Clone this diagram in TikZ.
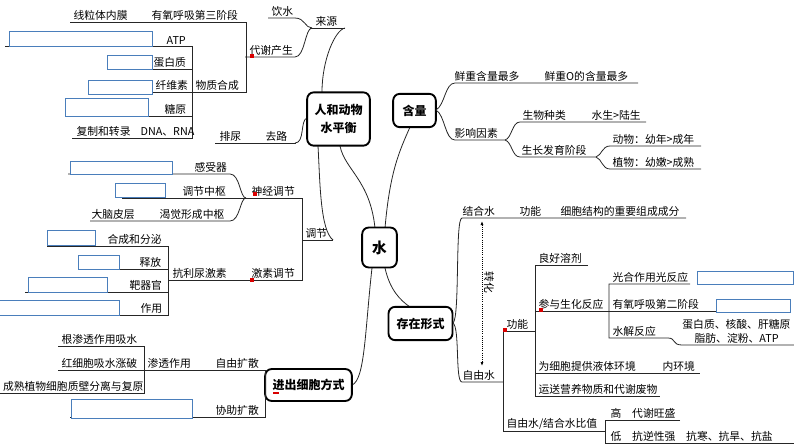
\documentclass[tikz,border=0pt]{standalone}
\usepackage{fontspec}
\setmainfont{Noto Sans CJK SC}
\usetikzlibrary{arrows.meta}
\definecolor{bx}{HTML}{4A7EBB}
\tikzset{t/.style={inner sep=1pt,font=\fontsize{8.1}{9}\selectfont},
 ln/.style={line width=0.6pt,black!85},
 mbox/.style={draw,line width=1.4pt,rounded corners=5pt,fill=white,font=\fontsize{9}{11}\selectfont\bfseries,align=center},
 blank/.style={draw=bx,line width=0.6pt,fill=white},
 rd/.style={fill=red!85!black}}
\newcommand\tx[3]{\node[t,anchor=south west] at (#1,#2) {#3};}
\newcommand\tr[3]{\node[t,anchor=south east] at (#1,#2) {#3};}
\newcommand\bk[4]{\draw[blank] (#1,#2) rectangle (#3,#4);}
\newcommand\rdot[2]{\fill[rd] (#1-2,#2-2) rectangle (#1+2,#2+2);}
\begin{document}
\begin{tikzpicture}[x=0.75pt,y=-0.75pt]
\useasboundingbox (0,0) rectangle (794,447);
\clip (0,0) rectangle (794,447);
% connectors from centre
\draw[ln] (375,228) .. controls (370,180) and (345,170) .. (340,146);
\draw[ln] (385,228) .. controls (390,170) and (400,150) .. (410,127);
\draw[ln] (385,268) .. controls (390,290) and (400,300) .. (410,307);
\draw[ln] (372,268) .. controls (365,330) and (365,380) .. (352,385);
\draw[ln] (333,240) .. controls (320,230) and (320,180) .. (318,146);
\draw[ln] (322,92) .. controls (322,60) and (335,30) .. (345,28);
\draw[ln] (307,118) .. controls (300,120) and (305,143) .. (295,143);
% centre nodes
\node[mbox,minimum width=26pt,minimum height=30pt,font=\fontsize{11}{13}\selectfont\bfseries] (wc) at (379.5,247.5) {水};
\node[mbox,minimum width=47pt,minimum height=40pt] (rh) at (338.5,119) {人和动物\\[2pt]水平衡};
\node[mbox,minimum width=32pt,minimum height=25pt] (hl) at (414.5,110.5) {含量};
\node[mbox,minimum width=48pt,minimum height=25pt] (cz) at (420.5,323.5) {存在形式};
\node[mbox,minimum width=65pt,minimum height=24pt] (jc) at (308.5,385) {进出细胞方式};
% ---- 来源
\draw[ln] (310,28) -- (345,28); \tx{314}{28}{来源}
\draw[ln] (268,18) -- (295,18) .. controls (305,18) and (305,28) .. (312,28); \tx{270}{18}{饮水}
\draw[ln] (245,57) -- (295,57) .. controls (305,57) and (305,28) .. (312,28); \tx{248}{57}{代谢产生}
\rdot{252}{56}
\draw[ln] (70,22) -- (246,22) -- (246,92) -- (193,92);
\tx{72}{22}{线粒体内膜} \tx{150}{22}{有氧呼吸第三阶段}
\tx{194}{92}{物质合成}
\draw[ln] (5,46) -- (192,46) -- (192,138) -- (72,138);
\draw[ln] (107,69) -- (192,69); \draw[ln] (88,92) -- (192,92); \draw[ln] (65,116) -- (192,116);
\bk{9}{31}{152}{46} \tx{165}{46}{ATP}
\bk{107}{55}{152}{69} \tx{152}{69}{蛋白质}
\bk{88}{80}{152}{94} \tx{154}{92}{纤维素}
\bk{65}{98}{148}{116} \tx{163}{116}{糖原}
\tx{75}{138}{复制和转录} \tx{139}{138}{DNA、RNA}
\draw[ln] (215,143) -- (296,143); \tx{218}{143}{排尿} \tx{264}{143}{去路}
% ---- 调节
\draw[ln] (302,240) -- (333,240); \tx{304}{240}{调节}
\draw[ln] (245,198) -- (302,198) -- (302,280) -- (168,280);
\tx{250}{198}{神经调节} \rdot{255}{194}
\tx{250}{280}{激素调节} \rdot{252}{280}
\tx{171}{280}{抗利尿激素}
\draw[ln] (68,174) -- (230,174) .. controls (240,174) and (240,198) .. (246,198);
\draw[ln] (122,198) -- (246,198);
\draw[ln] (90,221) -- (230,221) .. controls (240,221) and (240,198) .. (246,198);
\bk{70}{161}{172}{174} \tx{193}{174}{感受器}
\bk{115}{183}{165}{197} \tx{181}{198}{调节中枢}
\tx{90}{221}{大脑皮层} \tx{158}{221}{渴觉形成中枢}
\draw[ln] (47,246) -- (168,246) -- (168,315) -- (0,315);
\draw[ln] (78,269) -- (168,269); \draw[ln] (25,292) -- (168,292);
\bk{47}{230}{95}{245} \tx{106}{246}{合成和分泌}
\bk{78}{255}{119}{269} \tx{138}{269}{释放}
\bk{28}{277}{107}{292} \tx{128}{292}{靶器官}
\bk{-2}{300}{119}{315} \tx{139}{315}{作用}
% ---- 进出细胞方式
\draw[ln] (143,370) -- (265,370) -- (265,417) -- (70,417);
\tx{146}{370}{渗透作用} \tx{214}{370}{自由扩散}
\bk{71}{399}{192}{418} \tx{214}{417}{协助扩散}
\draw[ln] (58,346) -- (144,346) -- (144,393) -- (0,393);
\draw[ln] (58,370) -- (144,370);
\tx{60}{346}{根渗透作用吸水} \tx{60}{370}{红细胞吸水涨破}
\tr{145}{393}{成熟植物细胞质壁分离与复原}
\fill[rd] (273,392) rectangle (279,394);
% ---- 含量
\draw[ln] (436,110) .. controls (445,105) and (445,83) .. (455,83) -- (638,83);
\draw[ln] (436,110) .. controls (445,115) and (445,140) .. (455,140) -- (505,140);
\tx{453}{83}{鲜重含量最多} \tx{543}{83}{鲜重O的含量最多}
\tx{453}{140}{影响因素}
\draw[ln] (505,140) .. controls (512,138) and (512,122) .. (520,122) -- (646,122);
\draw[ln] (505,140) .. controls (512,142) and (512,157) .. (520,157) -- (596,157);
\tx{521}{122}{生物种类} \tx{590}{122}{水生>陆生} \tx{520}{157}{生长发育阶段}
\draw[ln] (596,157) .. controls (602,155) and (602,146) .. (610,146) -- (701,146);
\draw[ln] (596,157) .. controls (602,159) and (602,169) .. (610,169) -- (701,169);
\tx{611}{146}{动物：幼年>成年} \tx{611}{169}{植物：幼嫩>成熟}
% ---- 存在形式
\draw[ln] (453,323) .. controls (460,318) and (455,218) .. (462,218) -- (686,218);
\draw[ln] (453,323) .. controls (460,328) and (455,382) .. (462,382) -- (503,382);
\tx{461}{218}{结合水} \tx{518}{218}{功能} \tx{559}{218}{细胞结构的重要组成成分}
\tx{461}{382}{自由水}
\draw[densely dotted,line width=0.6pt,{Latex[length=3pt]}-{Latex[length=3pt]}] (482,221) -- (482,366);
\node[t,rotate=-90] at (489,282) {转化};
\draw[ln] (503,382) -- (503,331) -- (535,331);
\draw[ln] (503,382) -- (503,431) -- (605,431);
\rdot{505}{330}
\tx{505}{331}{功能} \tx{505}{431}{自由水/结合水比值}
\draw[ln] (588,265) -- (535,265) -- (535,396) -- (660,396);
\draw[ln] (535,311) -- (716,311); \draw[ln] (535,373) -- (700,373);
\tx{537}{265}{良好溶剂} \tx{537}{311}{参与生化反应} \rdot{541}{310}
\tx{537}{373}{为细胞提供液体环境} \tx{661}{373}{内环境}
\tx{537}{396}{运送营养物质和代谢废物}
\draw[ln] (690,284) -- (609,284) -- (609,338) -- (668,338) .. controls (676,338) and (672,345) .. (682,345) -- (794,345);
\tx{611}{284}{光合作用光反应} \bk{697}{271}{793}{284}
\tx{611}{311}{有氧呼吸第二阶段} \bk{716}{299}{790}{312}
\tx{611}{338}{水解反应}
\tr{792}{331}{蛋白质、核酸、肝糖原} \tx{693}{345}{脂肪、淀粉、ATP}
\draw[ln] (680,420) -- (605,420) -- (605,443) -- (794,443);
\tx{609}{420}{高\quad 代谢旺盛} \tx{609}{443}{低\quad 抗逆性强\quad 抗寒、抗旱、抗盐}
\end{tikzpicture}
\end{document}
